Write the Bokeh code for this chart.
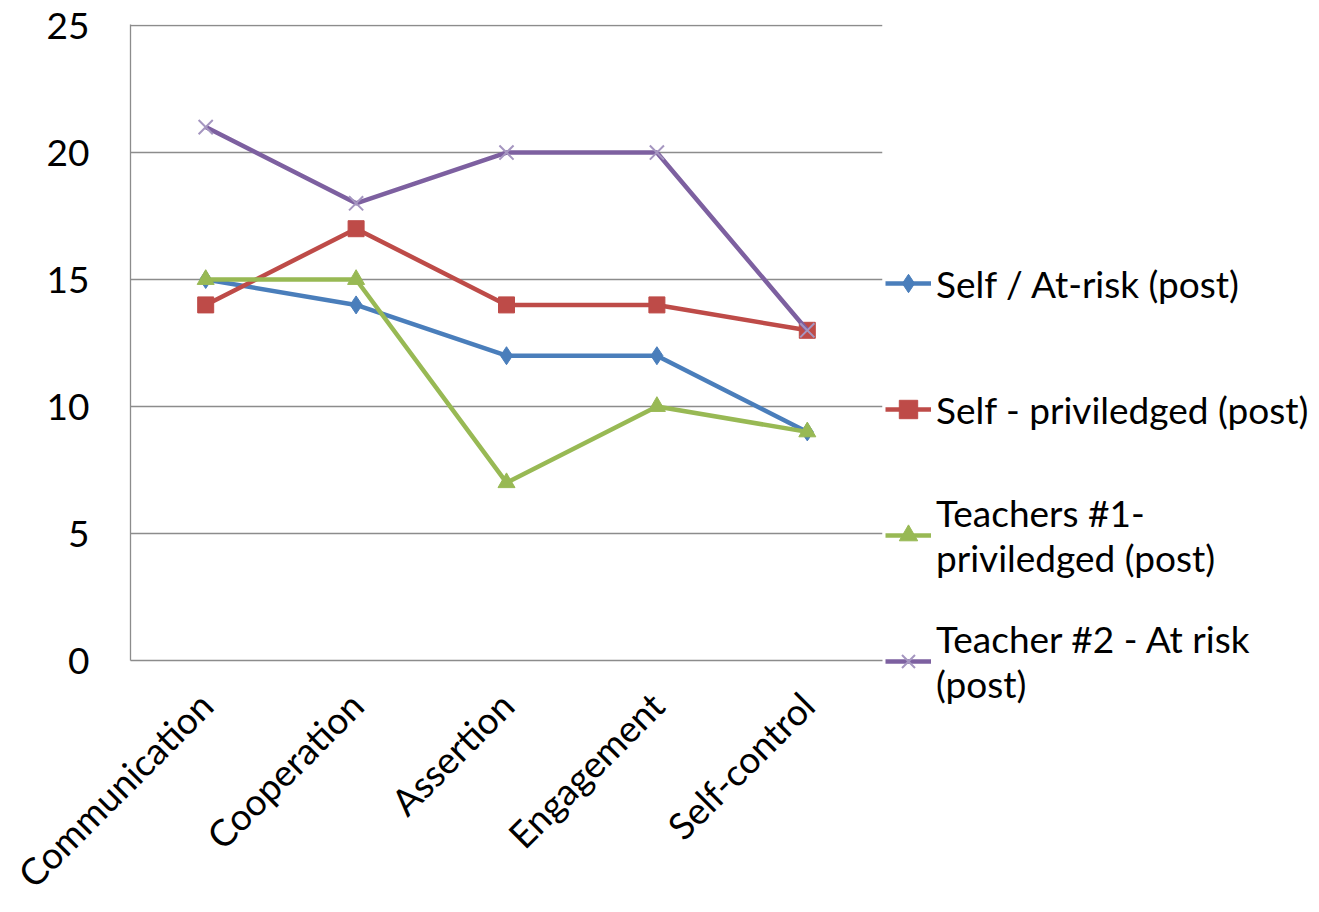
import math
from bokeh.plotting import figure
from bokeh.models import Legend, LegendItem, FixedTicker
from bokeh.embed import file_html
from bokeh.resources import INLINE

categories = ["Communication", "Cooperation", "Assertion", "Engagement", "Self-control"]
self_at_risk = [15, 14, 12, 12, 9]
self_privileged = [14, 17, 14, 14, 13]
teachers1_privileged = [15, 15, 7, 10, 9]
teacher2_at_risk = [21, 18, 20, 20, 13]
y_ticks = [0, 5, 10, 15, 20, 25]

labels = ["Self / At-risk (post)", "Self - priviledged (post)",
          "Teachers #1-\npriviledged (post)", "Teacher #2 - At risk\n(post)"]

FONT = "Lato"
FS = "37px"

p = figure(width=1319, height=912, x_range=categories, y_range=(0, 25.04),
           output_backend="svg", toolbar_location=None,
           min_border_left=130, min_border_right=0, min_border_top=24,
           min_border_bottom=252)
p.frame_width = 752
p.frame_height = 636
p.outline_line_color = None
p.xgrid.grid_line_color = None
p.ygrid.grid_line_color = "#8c8c8c"
p.ygrid.grid_line_width = 1.3
p.yaxis.ticker = FixedTicker(ticks=y_ticks)

for ax in (p.xaxis, p.yaxis):
    ax.axis_line_color = "#8c8c8c"
    ax.axis_line_width = 1.3
    ax.major_tick_line_color = None
    ax.minor_tick_line_color = None
    ax.major_label_text_font = FONT
    ax.major_label_text_font_size = FS
    ax.major_label_text_color = "#000000"
p.yaxis.major_label_standoff = 35
p.xaxis.major_label_standoff = 32
p.xaxis.major_label_orientation = math.pi / 4

r1l = p.line(categories, self_at_risk, line_color="#4a7ebb", line_width=4.5)
r1m = p.scatter(categories, self_at_risk, marker="diamond", size=18, color="#4a7ebb")
r2l = p.line(categories, self_privileged, line_color="#be4b48", line_width=4.5)
r2m = p.scatter(categories, self_privileged, marker="square", size=16, color="#be4b48")
r3l = p.line(categories, teachers1_privileged, line_color="#98b954", line_width=4.5)
r3m = p.scatter(categories, teachers1_privileged, marker="triangle", size=17, color="#98b954")
r4l = p.line(categories, teacher2_at_risk, line_color="#7d60a0", line_width=4.5)
r4m = p.scatter(categories, teacher2_at_risk, marker="x", size=20, line_color="#a596c0", line_width=2)

renders = [(r1l, r1m), (r2l, r2m), (r3l, r3m), (r4l, r4m)]
items = [LegendItem(label=lab, renderers=[rl, rm]) for (rl, rm), lab in zip(renders, labels)]
lg = Legend(items=items, location=(3, -49), border_line_color=None,
            background_fill_alpha=0, padding=0, margin=0, spacing=30,
            label_text_font=FONT, label_text_font_size=FS,
            label_text_color="#000000", label_standoff=5,
            glyph_width=46, glyph_height=96, label_height=36,
            label_text_line_height=1.3)
p.add_layout(lg, "right")

open("out.html", "w").write(file_html(p, INLINE))
